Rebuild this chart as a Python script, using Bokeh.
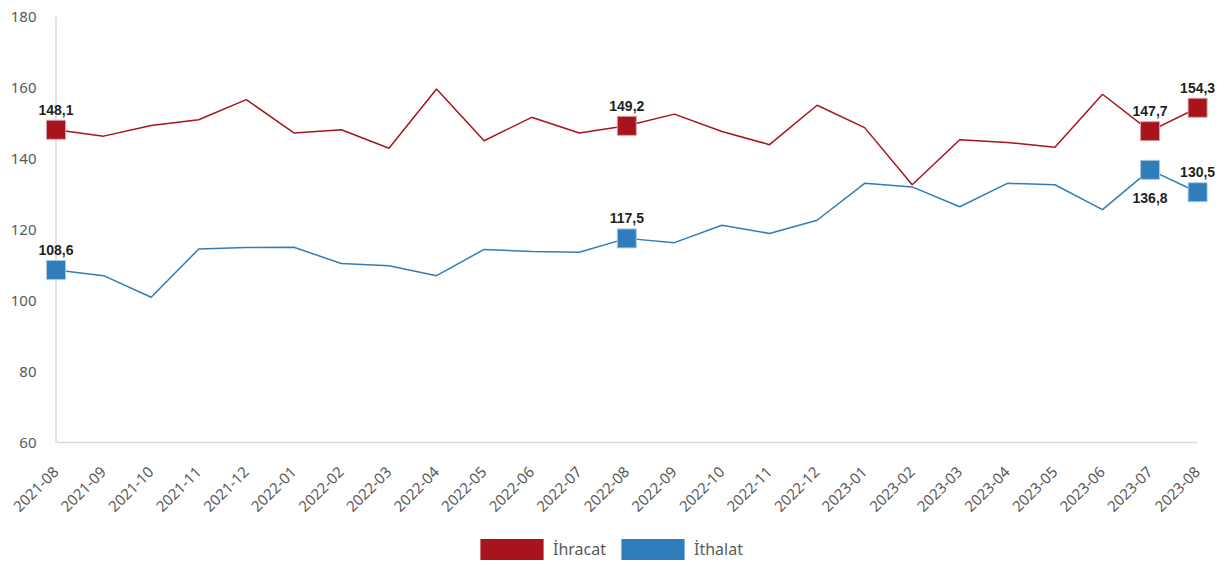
import math
from bokeh.plotting import figure
from bokeh.layouts import column
from bokeh.models import (ColumnDataSource, Range1d, FixedTicker, Span, Legend,
                          LegendItem)
from bokeh.embed import file_html
from bokeh.resources import INLINE
from bokeh.core.properties import value

months = ["2021-08", "2021-09", "2021-10", "2021-11", "2021-12",
          "2022-01", "2022-02", "2022-03", "2022-04", "2022-05", "2022-06",
          "2022-07", "2022-08", "2022-09", "2022-10", "2022-11", "2022-12",
          "2023-01", "2023-02", "2023-03", "2023-04", "2023-05", "2023-06",
          "2023-07", "2023-08"]
ihracat = [148.1, 146.3, 149.3, 150.9, 156.6, 147.2, 148.1, 142.9, 159.6,
           145.0, 151.6, 147.2, 149.2, 152.5, 147.6, 143.9, 155.0, 148.7,
           132.6, 145.3, 144.5, 143.2, 158.1, 147.7, 154.3]
ithalat = [108.6, 107.0, 100.9, 114.5, 114.9, 115.0, 110.4, 109.8, 107.0,
           114.4, 113.8, 113.6, 117.5, 116.3, 121.2, 118.9, 122.6, 133.0,
           132.0, 126.4, 133.0, 132.6, 125.6, 136.8, 130.5]
labeled_idx = [0, 12, 23, 24]
y_ticks = [60, 80, 100, 120, 140, 160, 180]
series_names = ["İhracat", "İthalat"]

RED = "#A8141B"
BLUE = "#2F7EBB"
GREY_TXT = "#595959"
AXIS_GREY = "#d9d9d9"

x = list(range(len(months)))

p = figure(width=1231, height=523, output_backend="svg", toolbar_location=None,
           x_range=Range1d(-0.41, 24.46), y_range=Range1d(60, 180),
           min_border_left=36, min_border_right=12, min_border_top=16,
           min_border_bottom=81)
p.outline_line_color = None
p.xgrid.grid_line_color = None
p.ygrid.grid_line_color = None

# y axis
p.yaxis.ticker = FixedTicker(ticks=y_ticks)
p.yaxis.axis_line_color = None
p.yaxis.major_tick_line_color = None
p.yaxis.minor_tick_line_color = None
p.yaxis.major_label_text_font = "Noto Sans"
p.yaxis.major_label_text_font_size = "15px"
p.yaxis.major_label_text_color = GREY_TXT
p.yaxis.major_label_standoff = -6

# x axis
p.xaxis.ticker = FixedTicker(ticks=x)
p.xaxis.major_label_overrides = {i: m for i, m in enumerate(months)}
p.xaxis.bounds = (0, len(months) - 1)
p.xaxis.axis_line_color = AXIS_GREY
p.xaxis.axis_line_width = 1.5
p.xaxis.major_tick_line_color = None
p.xaxis.minor_tick_line_color = None
p.xaxis.major_label_orientation = math.pi / 4
p.xaxis.major_label_text_font = "Noto Sans"
p.xaxis.major_label_text_font_size = "15px"
p.xaxis.major_label_text_color = GREY_TXT
p.xaxis.major_label_standoff = 21

vline = Span(location=0, dimension="height", line_color=AXIS_GREY,
             line_width=1.5, level="underlay")
p.add_layout(vline)

src = ColumnDataSource(dict(x=x, ihr=ihracat, ith=ithalat))
p.line("x", "ihr", source=src, line_color=RED, line_width=1.5)
p.line("x", "ith", source=src, line_color=BLUE, line_width=1.5)

mk_ihr = ColumnDataSource(dict(
    x=[x[i] for i in labeled_idx],
    y=[ihracat[i] for i in labeled_idx],
    t=[f"{ihracat[i]:.1f}".replace(".", ",") for i in labeled_idx]))
mk_ith = ColumnDataSource(dict(
    x=[x[i] for i in labeled_idx],
    y=[ithalat[i] for i in labeled_idx],
    t=[f"{ithalat[i]:.1f}".replace(".", ",") for i in labeled_idx],
    off=[28 if i == 23 else -20 for i in labeled_idx]))

p.scatter("x", "y", source=mk_ihr, marker="square", size=19,
          fill_color=RED, line_color="#d9a0a3", line_width=1)
p.scatter("x", "y", source=mk_ith, marker="square", size=19,
          fill_color=BLUE, line_color="#a9c9e3", line_width=1)

lbl_font = value("Liberation Sans")
p.text("x", "y", text="t", source=mk_ihr, text_align="center",
       text_baseline="alphabetic", y_offset=-20, text_font=lbl_font,
       text_font_size="14px", text_font_style="bold", text_color="#1f1f1f")
p.text("x", "y", text="t", source=mk_ith, text_align="center",
       text_baseline="alphabetic", y_offset="off", text_font=lbl_font,
       text_font_size="14px", text_font_style="bold", text_color="#1f1f1f")

# legend figure (no axes)
p2 = figure(width=1231, height=43, output_backend="svg", toolbar_location=None,
            x_range=Range1d(1000, 1001), y_range=Range1d(1000, 1001),
            x_axis_location=None, y_axis_location=None, min_border=0)
p2.grid.visible = False
p2.outline_line_color = None
sw1 = p2.quad(left=[x[0]], right=[x[0]], top=[ihracat[0]],
              bottom=[ihracat[0]], fill_color=RED, line_color=None)
sw2 = p2.quad(left=[x[0]], right=[x[0]], top=[ithalat[0]],
              bottom=[ithalat[0]], fill_color=BLUE, line_color=None)
legend = Legend(items=[LegendItem(label=series_names[0], renderers=[sw1]),
                       LegendItem(label=series_names[1], renderers=[sw2])],
                location=(436, 4), orientation="horizontal",
                glyph_width=79, glyph_height=26, label_standoff=2,
                spacing=7, padding=0, margin=0,
                border_line_color=None, background_fill_alpha=0,
                label_text_font="Noto Sans", label_text_font_size="16px",
                label_text_color=GREY_TXT)
p2.add_layout(legend)

open("out.html", "w").write(file_html(column(p, p2, spacing=0), INLINE))
